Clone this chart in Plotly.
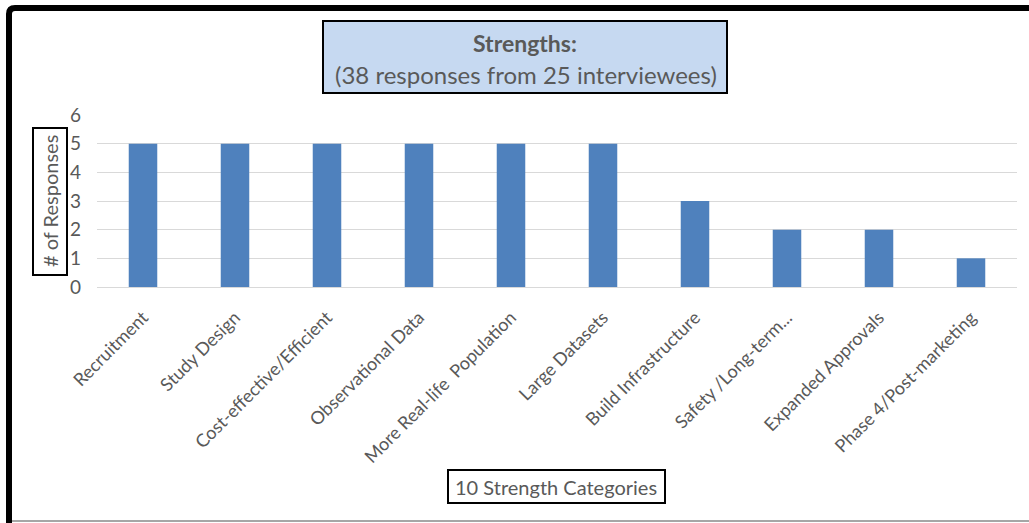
import plotly.graph_objects as go

categories = [
    "Recruitment", "Study Design", "Cost-effective/Efficient", "Observational Data",
    "More Real-life  Population", "Large Datasets", "Build Infrastructure",
    "Safety /Long-term...", "Expanded Approvals", "Phase 4/Post-marketing",
]
responses = [5, 5, 5, 5, 5, 5, 3, 2, 2, 1]
y_ticks = [0, 1, 2, 3, 4, 5, 6]

W, H = 1029, 523
L, R, T, B = 97, 1017, 115, 287  # plot area in pixels

def px(x):
    return (x - L) / (R - L)

def py(y):
    return (B - y) / (B - T)

FONT = "Lato"
GREY = "#595959"

fig = go.Figure(go.Bar(
    x=categories, y=responses,
    marker=dict(color="#4f81bd", line=dict(width=0)),
))

fig.update_layout(
    width=W, height=H,
    margin=dict(l=L, r=W - R, t=T, b=H - B, pad=0),
    paper_bgcolor="white", plot_bgcolor="white",
    bargap=0.69, showlegend=False,
    font=dict(family=FONT, color=GREY),
    xaxis=dict(
        tickangle=-45, tickfont=dict(size=18, color=GREY),
        showgrid=False, showline=True, linecolor="#d9d9d9", linewidth=1,
        ticks="", ticklabelstandoff=12,
    ),
    yaxis=dict(
        range=[0, 6], tickvals=y_ticks, tickfont=dict(size=19, color=GREY),
        showgrid=True, gridcolor="#d9d9d9", gridwidth=1, zeroline=False,
        showline=False, ticks="", ticklabelstandoff=15,
    ),
)

shapes = []
# outer frame: thick black top/left edges and a thin grey bottom rule
shapes.append(dict(type="path", xref="paper", yref="paper",
                   path=f"M {px(9)},{py(530)} L {px(9)},{py(14)} Q {px(9)},{py(8)} {px(15)},{py(8)} L {px(1040)},{py(8)}",
                   line=dict(color="black", width=6)))
shapes.append(dict(type="line", xref="paper", yref="paper",
                   x0=px(12), x1=px(1040), y0=py(521), y1=py(521),
                   line=dict(color="#a6a6a6", width=2)))
# title box
shapes.append(dict(type="rect", xref="paper", yref="paper",
                   x0=px(323), x1=px(727), y0=py(21), y1=py(93),
                   fillcolor="#c6d9f1", line=dict(color="black", width=2)))
# y-axis title box
shapes.append(dict(type="rect", xref="paper", yref="paper",
                   x0=px(33), x1=px(67), y0=py(128), y1=py(275),
                   fillcolor="white", line=dict(color="black", width=2)))
# x-axis title box
shapes.append(dict(type="rect", xref="paper", yref="paper",
                   x0=px(448), x1=px(665), y0=py(470), y1=py(503),
                   fillcolor="white", line=dict(color="black", width=2)))

def label(text, x, y, size, angle=0):
    return dict(text=text, x=px(x), y=py(y), xref="paper", yref="paper",
                xanchor="center", yanchor="middle", textangle=angle,
                showarrow=False, font=dict(size=size, color=GREY, family=FONT))

annotations = [
    label("<b>Strengths:</b>", 525, 43, 23),
    label("(38 responses from 25 interviewees)", 526, 74, 24),
    label("# of Responses", 50, 201, 20, angle=-90),
    label("10 Strength Categories", 556, 487, 20),
]

fig.update_layout(shapes=shapes, annotations=annotations)
fig.write_html("out.html")
